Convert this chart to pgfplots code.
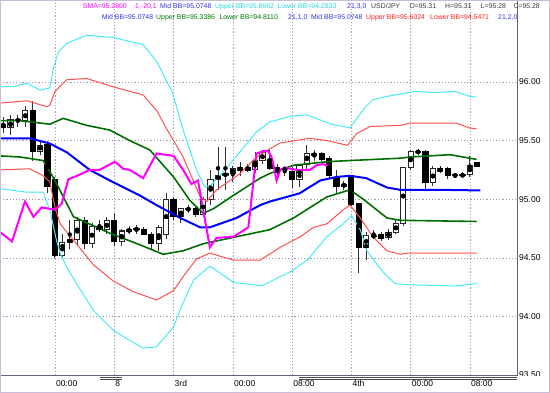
\documentclass[border=0pt]{standalone}
\usepackage{pgfplots}
\pgfplotsset{compat=1.18}
\usepackage{pgfplotstable}
\usepackage{fontspec}
\setmainfont{Liberation Sans}

\definecolor{mtblue}{RGB}{0,0,255}
\definecolor{mtgreen}{RGB}{0,110,0}
\definecolor{mtred}{RGB}{255,80,80}
\definecolor{mtcyan}{RGB}{70,235,245}
\definecolor{mtmag}{RGB}{255,0,255}
\definecolor{gridc}{RGB}{165,150,180}
\definecolor{framec}{RGB}{110,95,130}
\definecolor{outerc}{RGB}{200,190,220}
\definecolor{txtblue}{RGB}{50,50,230}
\definecolor{txtcyan}{RGB}{40,215,225}
\definecolor{txtgreen}{RGB}{0,120,0}
\definecolor{txtred}{RGB}{255,30,30}
\definecolor{txtgray}{RGB}{60,60,60}
\definecolor{wickc}{RGB}{50,50,50}

\newcommand\lf{\fontsize{6.9bp}{8bp}\selectfont}

% white (rising) candles
\pgfplotstableread{
k o h l c
2 95.61 95.72 95.55 95.68
3 95.67 95.72 95.62 95.68
4 95.67 95.80 95.62 95.76
6 95.41 95.50 95.38 95.46
9 94.52 94.70 94.50 94.63
10 94.63 94.82 94.58 94.66
11 94.66 94.85 94.60 94.82
13 94.62 94.80 94.58 94.77
15 94.74 94.85 94.70 94.82
17 94.64 94.75 94.60 94.73
18 94.73 94.77 94.70 94.74
19 94.74 94.78 94.70 94.75
22 94.62 94.78 94.56 94.76
23 94.70 95.05 94.66 95.00
25 94.85 94.93 94.80 94.92
26 94.91 94.95 94.88 94.92
28 94.87 95.02 94.85 95.00
29 95.00 95.25 94.95 95.17
30 95.17 95.45 95.08 95.20
31 95.20 95.45 95.08 95.22
32 95.22 95.28 95.15 95.26
33 95.25 95.32 95.20 95.27
35 95.25 95.40 95.22 95.33
36 95.33 95.42 95.30 95.40
38 95.25 95.30 95.18 95.27
39 95.25 95.28 95.20 95.26
41 95.17 95.30 95.10 95.29
42 95.30 95.46 95.25 95.39
43 95.37 95.42 95.33 95.39
47 95.11 95.16 95.08 95.13
50 94.59 94.72 94.48 94.69
51 94.68 94.74 94.66 94.69
53 94.67 94.75 94.65 94.72
54 94.72 94.82 94.70 94.79
55 94.79 95.28 94.77 95.27
56 95.27 95.42 95.25 95.41
57 95.40 95.43 95.38 95.41
59 95.14 95.28 95.11 95.26
60 95.24 95.28 95.22 95.26
62 95.20 95.22 95.18 95.21
63 95.20 95.23 95.18 95.21
64 95.21 95.37 95.19 95.29
}\bull

% black (falling) candles
\pgfplotstableread{
k o h l c
1 95.64 95.70 95.57 95.61
5 95.76 95.84 95.33 95.41
7 95.47 95.50 95.05 95.11
8 95.17 95.19 94.50 94.52
12 94.82 94.85 94.58 94.62
14 94.77 94.82 94.72 94.74
16 94.82 94.88 94.60 94.64
20 94.74 94.76 94.70 94.70
21 94.70 94.72 94.58 94.62
24 95.00 95.02 94.82 94.85
27 94.92 94.93 94.85 94.87
34 95.27 95.30 95.23 95.25
37 95.34 95.42 95.25 95.26
40 95.24 95.28 95.10 95.17
44 95.39 95.40 95.33 95.34
45 95.35 95.37 95.17 95.20
46 95.19 95.25 95.05 95.11
48 95.20 95.21 94.94 94.96
49 94.96 94.97 94.37 94.59
52 94.70 94.72 94.64 94.67
58 95.41 95.42 95.08 95.14
61 95.26 95.28 95.17 95.20
65 95.31 95.31 95.28 95.28
}\bear

\begin{document}
\begin{tikzpicture}
\path[use as bounding box] (0,0) rectangle (550bp,393bp);
\begin{axis}[
  at={(0bp,18bp)}, anchor=south west,
  scale only axis, width=517bp, height=375bp,
  xmin=0.58, xmax=70.35, ymin=93.5, ymax=96.70,
  axis line style={framec, line width=0.8bp},
  xtick={8,16,24,32,40,48,56,64},
  xticklabels={00:00,8,3rd,00:00,08:00,4th,00:00,08:00},
  ytick={93.5,94,94.5,95,95.5,96},
  yticklabel pos=right,
  major tick length=0pt,
  grid=major,
  major grid style={gridc, line width=0.6bp, dash pattern=on 1.2bp off 2bp},
  tick label style={font=\fontsize{8.5bp}{9bp}\selectfont, text=black},
  xticklabel style={anchor=north west, inner sep=0pt, xshift=1bp, yshift=-5bp},
  yticklabel style={anchor=west, inner sep=0pt, xshift=2bp,
    /pgf/number format/.cd, fixed, fixed zerofill, precision=2},
  /pgf/number format/assume math mode=true,
]
% wicks
\addplot[only marks, mark=none, forget plot,
  error bars/.cd, y dir=both, y explicit, error mark=none,
  error bar style={wickc, line width=1bp, solid}]
  table[x=k, y expr={(\thisrow{h}+\thisrow{l})/2}, y error expr={(\thisrow{h}-\thisrow{l})/2}] {\bull};
\addplot[only marks, mark=none, forget plot,
  error bars/.cd, y dir=both, y explicit, error mark=none,
  error bar style={wickc, line width=1bp, solid}]
  table[x=k, y expr={(\thisrow{h}+\thisrow{l})/2}, y error expr={(\thisrow{h}-\thisrow{l})/2}] {\bear};
% white bodies: outline then fill
\addplot[only marks, mark=none, forget plot,
  error bars/.cd, y dir=both, y explicit, error mark=none,
  error bar style={black!85, line width=6.2bp, solid}]
  table[x=k, y expr={(\thisrow{o}+\thisrow{c})/2}, y error expr={abs(\thisrow{c}-\thisrow{o})/2+0.0045}] {\bull};
\addplot[only marks, mark=none, forget plot,
  error bars/.cd, y dir=both, y explicit, error mark=none,
  error bar style={white, line width=4.2bp, solid}]
  table[x=k, y expr={(\thisrow{o}+\thisrow{c})/2}, y error expr={max(abs(\thisrow{c}-\thisrow{o})/2-0.0045,0)}] {\bull};
% black bodies
\addplot[only marks, mark=none, forget plot,
  error bars/.cd, y dir=both, y explicit, error mark=none,
  error bar style={black, line width=6.2bp, solid}]
  table[x=k, y expr={(\thisrow{o}+\thisrow{c})/2}, y error expr={abs(\thisrow{c}-\thisrow{o})/2+0.0045}] {\bear};

% Bollinger dev 3 (cyan)
\addplot[mtcyan, line width=1bp] coordinates {
(0.58,95.96) (2.4,95.96) (4.2,95.99) (6,95.93) (7.3,95.95) (7.8,96.12) (8.5,96.26) (9.6,96.33)
(12.3,96.40) (15.8,96.38) (19.9,96.32) (21.8,96.17) (23.1,96.00) (23.75,95.93) (25.3,95.59)
(27.1,95.25) (28.2,95.105) (29.1,95.12) (31.6,95.30) (35.2,95.575) (37,95.66) (40,95.71)
(42,95.72) (45.3,95.64) (47.8,95.61) (49.8,95.78) (50.9,95.85) (53,95.88) (56.6,95.92)
(59.3,95.91) (62,95.92) (63.8,95.88) (64.9,95.87)};
\addplot[mtcyan, line width=1bp] coordinates {
(0.58,95.09) (4.2,95.06) (6.4,95.06) (7.3,94.91) (8.2,94.65) (8.7,94.54) (9.6,94.42)
(10.9,94.28) (13.2,94.05) (15.9,93.88) (17.7,93.81) (19.9,93.73) (21.7,93.74) (24,93.91)
(25.1,94.09) (26.7,94.31) (28.9,94.43) (32.1,94.29) (35.9,94.26) (40,94.39) (42.2,94.49)
(43.1,94.56) (44.7,94.68) (46.9,94.79) (48,94.86) (49.2,94.74) (50.1,94.56) (52.1,94.39)
(53.9,94.28) (55.7,94.27) (62,94.26) (64.9,94.28)};
% Bollinger dev 2 (red)
\addplot[mtred, line width=1bp] coordinates {
(0.58,95.82) (4.2,95.84) (6.9,95.79) (7.3,95.80) (8,95.92) (9.6,96.02) (12.3,96.03)
(15.8,95.96) (19.9,95.89) (21.8,95.75) (22.8,95.63) (25.3,95.36) (27.6,95.02) (28.5,94.98)
(29.8,95.08) (33,95.22) (35.2,95.36) (37,95.43) (38.4,95.48) (42.4,95.52) (44.7,95.50)
(47.5,95.46) (48.7,95.56) (50.5,95.62) (54.6,95.63) (55.9,95.65) (62.2,95.65) (63.8,95.61)
(64.9,95.60)};
\addplot[mtred, line width=1bp] coordinates {
(0.58,95.25) (4.6,95.26) (6.4,95.20) (7.3,95.15) (8,94.93) (8.7,94.79) (11.4,94.58)
(13.2,94.44) (15.9,94.30) (18.6,94.21) (21.7,94.14) (24,94.22) (25.3,94.34) (27.1,94.49)
(28.9,94.54) (32.1,94.48) (35.7,94.48) (38.4,94.59) (41.1,94.68) (42.9,94.76) (44.7,94.79)
(46.9,94.91) (47.8,94.95) (49.2,94.84) (50.9,94.68) (52.8,94.56) (54.6,94.53) (55.6,94.54)
(64.9,94.54)};
% Bollinger dev 1 (green)
\addplot[mtgreen, line width=1.6bp] coordinates {
(0.58,95.67) (3.3,95.67) (6,95.65) (7.3,95.64) (9.1,95.69) (12.3,95.63) (15.4,95.59)
(18.1,95.50) (20.8,95.42) (24,95.19) (26.2,94.99) (28,94.88) (29.4,94.92) (32.5,95.05)
(35.7,95.18) (37,95.22) (40.2,95.29) (44.7,95.32) (47.8,95.33) (54.6,95.35) (55.9,95.36)
(61.3,95.38) (64.9,95.34)};
\addplot[mtgreen, line width=1.6bp] coordinates {
(0.58,95.37) (3.3,95.36) (6.4,95.33) (8,95.16) (10.5,94.85) (15.4,94.71) (19.5,94.61)
(22.6,94.53) (25.3,94.56) (28,94.62) (32.5,94.68) (37,94.74) (40.2,94.84) (44.7,95.02)
(47.8,95.08) (49.6,95.00) (52.8,94.84) (54.6,94.82) (64.9,94.81)};
% middle band (blue)
\addplot[mtblue, line width=2bp] coordinates {
(0.58,95.52) (4.6,95.52) (7.3,95.475) (9.6,95.40) (12.7,95.25) (15.4,95.16) (19.5,95.03)
(21.7,94.95) (24.9,94.84) (27.6,94.76) (28.9,94.76) (32.5,94.84) (35.7,94.95) (37,94.98)
(41,95.05) (43.8,95.16) (46,95.19) (47.8,95.20) (50,95.18) (52.8,95.10) (54.6,95.08)
(60,95.08) (65.4,95.075)};
% SMA 1 shifted -20 (magenta)
\addplot[mtmag, line width=2bp] coordinates {
(0.58,94.72) (2.2,94.64) (3.95,94.98) (5.1,94.85) (6.2,94.93) (8,94.91) (8.9,94.96)
(9.8,95.17) (11,95.20) (12.7,95.25) (14,95.25) (16.1,95.32) (17.2,95.26) (18.1,95.25)
(19.9,95.18) (21.7,95.39) (24,95.37) (25.3,95.25) (26.4,95.13) (27.3,95.16) (28.9,94.59)
(29.8,94.67) (32.1,94.68) (34.1,94.76) (35.2,95.39) (36.1,95.41) (36.8,95.41) (37.3,95.35)
(37.9,95.16) (38.4,95.25) (39,95.27) (40.6,95.25) (42.4,95.25) (43.3,95.29) (44.2,95.30)
(44.9,95.28)};

\node[anchor=west, fill=black!25, inner sep=0.6bp, xshift=1.5bp,
  font=\fontsize{8.5bp}{9bp}\selectfont] at (axis cs:70.35,95.28) {95.28};
\end{axis}
% hide lower part of the cut-off 93.50 label
\fill[white] (517.6bp,0) rectangle (550bp,16.5bp);
% period separators under the time scale
\draw[black!70, line width=0.7bp] (100bp,16bp) -- (122bp,16bp) (100bp,13.5bp) -- (122bp,13.5bp);
\draw[black!70, line width=0.7bp] (299bp,16bp) -- (517bp,16bp) (299bp,13.5bp) -- (517bp,13.5bp);
% outer frame
\draw[outerc, line width=1bp] (0.5bp,0.5bp) rectangle (549.5bp,392.5bp);
% indicator captions
\begin{scope}[every node/.style={anchor=base west, inner sep=0pt, font=\lf}]
\node[text=mtmag]    at (82.7bp,384bp) {SMA=95.2800};
\node[text=mtmag]    at (135bp,384bp) {1,-20,1};
\node[text=txtblue]  at (160bp,384bp) {Mid BB=95.0748};
\node[text=txtcyan]  at (215bp,384bp) {Upper BB=95.8662};
\node[text=txtcyan]  at (277.3bp,384bp) {Lower BB=94.2833};
\node[text=txtblue]  at (347bp,384bp) {21,3,0};
\node[text=txtgray]  at (371bp,384bp) {USD/JPY};
\node[text=txtgray]  at (409.3bp,384bp) {O=95.31};
\node[text=txtgray]  at (445bp,384bp) {H=95.31};
\node[text=txtgray]  at (480.7bp,384bp) {L=95.28};
\node[text=txtgray]  at (513.3bp,384bp) {C=95.28};
\node[text=txtblue]  at (101.7bp,373bp) {Mid BB=95.0748};
\node[text=txtgreen] at (156bp,373bp) {Upper BB=95.3386};
\node[text=txtgreen] at (219.3bp,373bp) {Lower BB=94.8110};
\node[text=txtblue]  at (288bp,373bp) {21,1,0};
\node[text=txtblue]  at (311bp,373bp) {Mid BB=95.0748};
\node[text=txtred]   at (366bp,373bp) {Upper BB=95.6024};
\node[text=txtred]   at (430bp,373bp) {Lower BB=94.5471};
\node[text=txtblue]  at (498bp,373bp) {21,2,0};
\end{scope}
\end{tikzpicture}
\end{document}
